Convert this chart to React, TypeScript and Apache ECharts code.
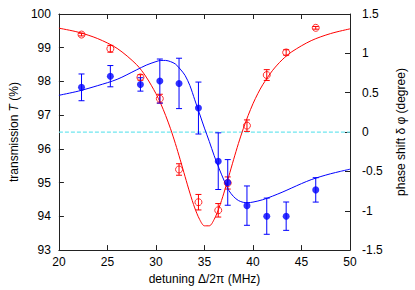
import React, { useEffect, useRef } from "react";
import * as echarts from "echarts";

// measured data (detuning in MHz)
const detuning = [22.33, 25.3, 28.4, 30.4, 32.38, 34.38, 36.42, 37.4, 39.38, 41.42, 43.42, 46.47];
const transmission = [99.39, 98.97, 98.12, 97.49, 95.39, 94.42, 94.18, 94.99, 96.69, 98.19, 98.86, 99.59];
const transmissionErr = [0.04, 0.1, 0.08, 0.13, 0.17, 0.23, 0.2, 0.18, 0.17, 0.16, 0.08, 0.04];
const phase = [0.568, 0.71, 0.605, 0.648, 0.618, 0.305, -0.37, -0.64, -0.935, -1.069, -1.069, -0.735];
const phaseErr = [0.17, 0.135, 0.085, 0.28, 0.32, 0.33, 0.36, 0.29, 0.25, 0.23, 0.18, 0.155];

// fitted curves
const transFitX = [20, 22, 24, 26, 28, 29, 30, 30.5, 31, 31.5, 32, 32.5, 33, 33.5, 34, 34.5, 35, 35.5, 36, 36.5, 37, 37.5, 38, 38.5, 39, 39.5, 40, 40.5, 41, 42, 43, 44, 46, 48, 50];
const transFitY = [99.58, 99.46, 99.27, 98.98, 98.5, 98.13, 97.64, 97.34, 96.99, 96.6, 96.16, 95.68, 95.18, 94.69, 94.25, 93.91, 93.72, 93.72, 93.91, 94.25, 94.69, 95.18, 95.68, 96.16, 96.6, 96.99, 97.34, 97.64, 97.9, 98.32, 98.64, 98.88, 99.21, 99.42, 99.56];
const phaseFitX = [20, 22, 24, 26, 28, 29, 30, 30.5, 31, 31.5, 32, 32.5, 33, 33.5, 34, 34.5, 35, 35.5, 36, 36.5, 37, 37.5, 38, 38.5, 39, 39.5, 40, 41, 42, 43, 44, 45, 46, 47, 48, 49, 50];
const phaseFitY = [0.467, 0.52, 0.59, 0.67, 0.79, 0.85, 0.895, 0.91, 0.91, 0.895, 0.865, 0.8, 0.72, 0.59, 0.41, 0.23, 0.05, -0.12, -0.3, -0.46, -0.61, -0.74, -0.82, -0.87, -0.893, -0.897, -0.89, -0.86, -0.815, -0.765, -0.71, -0.655, -0.605, -0.565, -0.53, -0.5, -0.472];

const xTicks = { min: 20, max: 50, interval: 5 };
const leftTicks = { min: 93, max: 100, interval: 1 };
const rightTicks = { min: -1.5, max: 1.5, interval: 0.5 };
const zeroLine = [[20, 0], [50, 0]];

const RED = "#ff0000";
const BLUE = "#0000ff";
const FONT = "'Liberation Sans', Arial, sans-serif";

function errorBars(color: string, yAxisIndex: number, xs: number[], ys: number[], es: number[]) {
  return {
    type: "custom",
    yAxisIndex,
    z: 4,
    data: xs.map((x, i) => [x, ys[i] - es[i], ys[i] + es[i]]),
    encode: { x: 0, y: [1, 2] },
    renderItem: (_p: any, api: any) => {
      const lo = api.coord([api.value(0), api.value(1)]);
      const hi = api.coord([api.value(0), api.value(2)]);
      const w = 3;
      const st = { stroke: color, lineWidth: 1 };
      return {
        type: "group",
        children: [
          { type: "line", shape: { x1: lo[0], y1: lo[1], x2: hi[0], y2: hi[1] }, style: st },
          { type: "line", shape: { x1: lo[0] - w, y1: lo[1], x2: lo[0] + w, y2: lo[1] }, style: st },
          { type: "line", shape: { x1: hi[0] - w, y1: hi[1], x2: hi[0] + w, y2: hi[1] }, style: st },
        ],
      };
    },
  };
}

export default function App() {
  const ref = useRef<HTMLDivElement>(null);
  useEffect(() => {
    document.body.style.margin = "0";
    const chart = echarts.init(ref.current!, null, { renderer: "svg" });
    const axisLine = { show: true, onZero: false, lineStyle: { color: "#222", width: 1 } };
    const axisTick = { show: true, inside: true, length: 5, lineStyle: { color: "#222", width: 1 } };
    const label = { color: "#000", fontSize: 12, fontFamily: FONT };
    const nameStyle = { color: "#000", fontSize: 12, fontFamily: FONT };
    chart.setOption({
      animation: false,
      backgroundColor: "#fff",
      grid: { left: 53, right: 57, top: 14, bottom: 36, containLabel: false },
      xAxis: [
        {
          type: "value", ...xTicks, position: "bottom",
          axisLine, axisTick, splitLine: { show: false },
          axisLabel: { ...label, margin: 6 },
          name: "detuning Δ/2π (MHz)", nameLocation: "middle", nameGap: 22, nameTextStyle: nameStyle,
        },
        {
          type: "value", ...xTicks, position: "top",
          axisLine, axisTick, splitLine: { show: false }, axisLabel: { show: false },
        },
      ],
      yAxis: [
        {
          type: "value", ...leftTicks, position: "left",
          axisLine, axisTick, splitLine: { show: false },
          axisLabel: { ...label, margin: 8 },
          name: "transmission {i|T} (%)", nameLocation: "middle", nameGap: 31,
          nameTextStyle: { ...nameStyle, rich: { i: { fontStyle: "italic", fontSize: 12, fontFamily: FONT, color: "#000" } } },
        },
        {
          type: "value", ...rightTicks, position: "right",
          axisLine, axisTick, splitLine: { show: false },
          axisLabel: { ...label, margin: 12 },
          name: "phase shift δ φ (degree)", nameLocation: "middle", nameGap: 45, nameTextStyle: nameStyle,
        },
      ],
      series: [
        {
          type: "line", yAxisIndex: 1, data: zeroLine, symbol: "none", z: 1,
          lineStyle: { color: "#6fe6ef", width: 1.2, type: [4, 2] },
        },
        {
          type: "line", yAxisIndex: 0, data: transFitX.map((x, i) => [x, transFitY[i]]),
          symbol: "none", smooth: 0.3, z: 2, lineStyle: { color: RED, width: 1 },
        },
        {
          type: "line", yAxisIndex: 1, data: phaseFitX.map((x, i) => [x, phaseFitY[i]]),
          symbol: "none", smooth: 0.3, z: 2, lineStyle: { color: BLUE, width: 1 },
        },
        errorBars(RED, 0, detuning, transmission, transmissionErr),
        errorBars(BLUE, 1, detuning, phase, phaseErr),
        {
          type: "scatter", yAxisIndex: 0, data: detuning.map((x, i) => [x, transmission[i]]),
          symbol: "circle", symbolSize: 7, z: 5,
          itemStyle: { color: "rgba(255,255,255,0)", borderColor: RED, borderWidth: 1 },
        },
        {
          type: "scatter", yAxisIndex: 1, data: detuning.map((x, i) => [x, phase[i]]),
          symbol: "circle", symbolSize: 7, z: 5,
          itemStyle: { color: BLUE },
        },
      ],
    });
    return () => chart.dispose();
  }, []);
  return <div ref={ref} style={{ width: 415, height: 290 }} />;
}
